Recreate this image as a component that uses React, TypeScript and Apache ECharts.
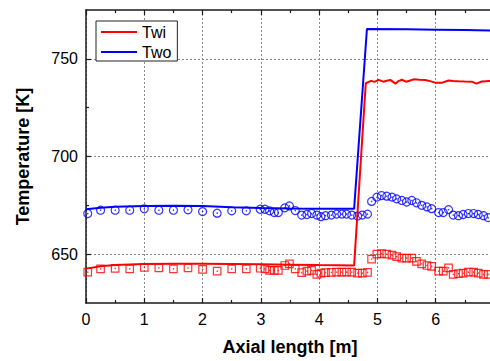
import React, { useEffect, useRef } from "react";
import * as echarts from "echarts";

// Simulated wall temperatures (lines)
const twoX = [0, 0.25, 0.5, 1.0, 1.5, 2.0, 2.5, 3.0, 3.5, 4.0, 4.6, 4.82, 5.5, 6.0, 6.5, 7.0];
const twoY = [673.0, 673.8, 674.3, 674.7, 674.8, 674.6, 674.0, 673.6, 673.4, 673.3, 673.2, 765.3, 765.1, 764.9, 764.7, 764.5];

const twiX = [0, 0.25, 0.5, 1.0, 1.5, 2.0, 2.5, 3.0, 3.5, 4.0, 4.6, 4.8, 4.89, 4.95, 5.02, 5.1, 5.16, 5.22, 5.31, 5.36, 5.42, 5.49, 5.55, 5.62, 5.72, 5.82, 5.9, 5.99, 6.1, 6.22, 6.3, 6.39, 6.5, 6.62, 6.7, 6.79, 6.93, 7.0];
const twiY = [642.6, 643.8, 644.5, 645.0, 645.1, 645.1, 645.0, 644.8, 644.6, 644.4, 644.2, 737.5, 738.7, 738.2, 739.2, 738.3, 738.8, 739.2, 737.3, 738.6, 739.3, 738.3, 738.8, 739.5, 739.3, 739.2, 738.6, 737.8, 737.7, 738.9, 738.6, 738.5, 738.4, 738.3, 737.3, 738.4, 738.7, 738.8];

// Measured points (markers)
const measX = [0.03, 0.25, 0.5, 0.75, 1.0, 1.25, 1.5, 1.75, 2.0, 2.25, 2.5, 2.75, 2.99, 3.07, 3.15, 3.23, 3.3, 3.41, 3.49, 3.59, 3.7, 3.79, 3.87, 3.96, 4.03, 4.11, 4.21, 4.3, 4.39, 4.47, 4.56, 4.66, 4.74, 4.83, 4.9, 4.99, 5.07, 5.16, 5.25, 5.33, 5.42, 5.5, 5.59, 5.67, 5.76, 5.85, 5.93, 6.05, 6.13, 6.22, 6.3, 6.39, 6.47, 6.56, 6.65, 6.73, 6.82, 6.9];
const twoMeas = [670.8, 672.5, 672.5, 672.5, 673.2, 672.5, 672.5, 672.7, 671.8, 671.0, 672.2, 672.2, 673.0, 673.0, 672.2, 671.3, 671.3, 673.7, 674.7, 672.3, 670.0, 670.3, 670.8, 670.0, 669.2, 669.7, 670.0, 670.5, 670.5, 670.5, 670.0, 669.5, 670.0, 670.5, 677.0, 679.2, 680.0, 679.7, 679.2, 678.3, 677.5, 676.7, 677.5, 676.3, 675.0, 674.2, 673.3, 671.3, 671.3, 672.8, 670.0, 669.7, 670.3, 670.8, 670.8, 670.3, 669.7, 668.7];
const twiMeas = [640.8, 642.5, 642.7, 642.5, 643.2, 643.0, 642.5, 643.0, 642.2, 641.3, 642.5, 642.5, 642.8, 642.5, 641.7, 641.7, 641.7, 644.2, 645.0, 642.5, 640.5, 641.3, 641.7, 639.7, 640.3, 640.5, 640.7, 640.8, 640.8, 640.8, 640.8, 640.3, 640.3, 640.7, 647.5, 650.0, 650.3, 650.0, 649.5, 648.7, 648.0, 648.0, 648.0, 646.3, 645.0, 644.2, 643.7, 641.3, 641.3, 643.0, 639.7, 640.0, 640.3, 640.8, 640.8, 640.3, 639.7, 639.7];

const yLabelValues = [650, 700, 750];
const yMinorValues = [675, 725];

const RED = "#ff0000";
const BLUE = "#0000ff";
const FONT = 'Arial, "Liberation Sans", sans-serif';
const AX = "#1a1a1a";

const zip = (xs: number[], ys: number[]) => xs.map((x, i) => [x, ys[i]]);

export default function App() {
  const ref = useRef<HTMLDivElement>(null);
  useEffect(() => {
    const chart = echarts.init(ref.current!, null, { renderer: "svg" });
    const split = { show: true, lineStyle: { color: "#8a8a8a", width: 1, type: [2, 2] as any } };
    chart.setOption({
      animation: false,
      backgroundColor: "#fff",
      textStyle: { fontFamily: FONT },
      grid: { left: 86, top: 10, right: 0, bottom: 52 },
      legend: {
        data: [
          { name: "Twi", icon: "rect" },
          { name: "Two", icon: "rect" },
        ],
        orient: "vertical",
        left: 96,
        top: 21,
        itemWidth: 36,
        itemHeight: 2,
        itemGap: 4,
        padding: [3, 6, 1, 5],
        borderColor: "#222",
        borderWidth: 1,
        backgroundColor: "#fff",
        textStyle: { fontSize: 16, lineHeight: 16, color: "#000", fontFamily: FONT },
      },
      xAxis: [
        {
          type: "value",
          min: 0,
          max: 7,
          interval: 1,
          position: "bottom",
          name: "Axial length [m]",
          nameLocation: "middle",
          nameGap: 35,
          nameTextStyle: { fontSize: 18, fontWeight: "bold", color: "#000", fontFamily: FONT },
          axisLine: { lineStyle: { color: AX, width: 1.5 } },
          axisTick: { inside: true, length: 5, lineStyle: { color: AX, width: 1.2 } },
          minorTick: { show: true, splitNumber: 2, length: 3, lineStyle: { color: AX, width: 1.2 } },
          axisLabel: { fontSize: 16, color: "#000", margin: 8, showMaxLabel: false, fontFamily: FONT },
          splitLine: split,
        },
        {
          type: "value",
          min: 0,
          max: 7,
          interval: 1,
          position: "top",
          axisLine: { lineStyle: { color: AX, width: 1.5 } },
          axisTick: { inside: true, length: 5, lineStyle: { color: AX, width: 1.2 } },
          minorTick: { show: true, splitNumber: 2, length: 3, lineStyle: { color: AX, width: 1.2 } },
          axisLabel: { show: false },
          splitLine: { show: false },
        },
      ],
      yAxis: [
        {
          type: "value",
          min: 625,
          max: 775,
          splitNumber: 3,
          position: "left",
          name: "Temperature [K]",
          nameLocation: "middle",
          nameGap: 54,
          nameTextStyle: { fontSize: 18, fontWeight: "bold", color: "#000", fontFamily: FONT },
          axisLine: { show: true, lineStyle: { color: AX, width: 1.5 } },
          axisTick: { show: true, inside: true, length: 5, customValues: yLabelValues, lineStyle: { color: AX, width: 1.2 } },
          axisLabel: { fontSize: 16, color: "#000", margin: 8, customValues: yLabelValues, fontFamily: FONT },
          splitLine: split,
        },
        {
          type: "value",
          min: 625,
          max: 775,
          position: "left",
          axisLine: { show: false },
          axisTick: { show: true, inside: true, length: 3, customValues: yMinorValues, lineStyle: { color: AX, width: 1.2 } },
          axisLabel: { show: false },
          splitLine: { show: false },
        },
      ],
      series: [
        {
          name: "Two measured",
          type: "scatter",
          symbol: "circle",
          symbolSize: 8,
          itemStyle: { color: "transparent", borderColor: BLUE, borderWidth: 1.2 },
          data: zip(measX, twoMeas),
          silent: true,
        },
        {
          name: "Twi measured",
          type: "scatter",
          symbol: "rect",
          symbolSize: 7.5,
          itemStyle: { color: "transparent", borderColor: RED, borderWidth: 1.2 },
          data: zip(measX, twiMeas),
          silent: true,
        },
        {
          name: "Two dots",
          type: "scatter",
          symbol: "circle",
          symbolSize: 1.5,
          itemStyle: { color: BLUE },
          data: zip(measX, twoMeas),
          silent: true,
        },
        {
          name: "Twi dots",
          type: "scatter",
          symbol: "circle",
          symbolSize: 1.5,
          itemStyle: { color: RED },
          data: zip(measX, twiMeas),
          silent: true,
        },
        {
          name: "Twi",
          type: "line",
          color: RED,
          symbol: "none",
          lineStyle: { color: RED, width: 2 },
          data: zip(twiX, twiY),
        },
        {
          name: "Two",
          type: "line",
          color: BLUE,
          symbol: "none",
          lineStyle: { color: BLUE, width: 2 },
          data: zip(twoX, twoY),
        },
      ],
    });
    return () => chart.dispose();
  }, []);
  return (
    <div style={{ position: "fixed", left: 0, top: 0, width: 490, height: 361, overflow: "hidden", background: "#fff" }}>
      <div ref={ref} style={{ width: 494, height: 361 }} />
    </div>
  );
}
